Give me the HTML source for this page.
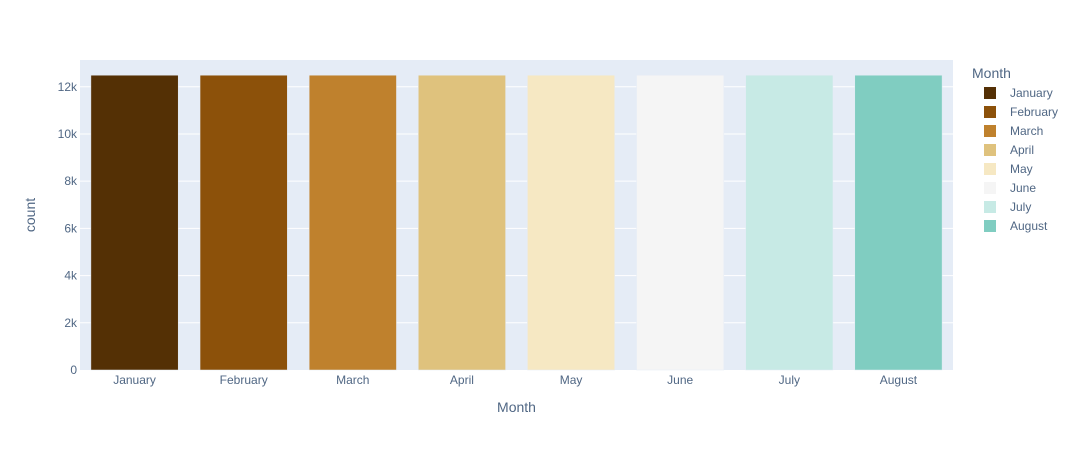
<!DOCTYPE html>
<html><head><meta charset="utf-8"><style>
body{margin:0;background:#fff;font-family:"Liberation Sans",sans-serif}
svg text{font-family:"Liberation Sans",sans-serif}
</style></head><body>
<svg id="c" width="1077" height="450"></svg>
<script>
const categories=["January","February","March","April","May","June","July","August"];
const counts=[12490,12490,12490,12490,12490,12490,12490,12490];
const colors=["#543005","#8c510a","#bf812d","#dfc27d","#f6e8c3","#f5f5f5","#c7eae5","#80cdc1"];
const yTicks=[0,2000,4000,6000,8000,10000,12000];
const yTickLabels=["0","2k","4k","6k","8k","10k","12k"];
const X0=80,X1=953,Y0=370,Y1=60,YMAX=13134;
const NS="http://www.w3.org/2000/svg";
const svg=document.getElementById('c');
function y(v){return Y0-(v/YMAX)*(Y0-Y1);}
const bw=(X1-X0)/categories.length;
function xc(i){return X0+bw*(i+0.5);}
function mk(t,a,p){const e=document.createElementNS(NS,t);for(const k in a)e.setAttribute(k,a[k]);(p||svg).appendChild(e);return e;}
const bg=mk('rect',{x:X0,y:Y1,width:X1-X0,height:Y0-Y1,fill:'#e5ecf6'});


yTicks.forEach((v,i)=>{
 if(v>0){const g=mk('line',{x1:X0,x2:X1,y1:y(v),y2:y(v),stroke:'#fff','stroke-width':1});
 
 }
 const t=mk('text',{x:X0-3,y:y(v)+4,'text-anchor':'end','font-size':12,fill:'#506784'});
 t.textContent=yTickLabels[i];
 
 
});
categories.forEach((c,i)=>{
 const w=bw*0.8;
 const r=mk('rect',{x:xc(i)-w/2,y:y(counts[i]),width:w,height:Y0-y(counts[i]),fill:colors[i],stroke:'#e5ecf6','stroke-width':0.5});
 
 
 const t=mk('text',{x:xc(i),y:Y0+14,'text-anchor':'middle','font-size':12,fill:'#506784'});
 t.textContent=c;
 
 
 const sw=mk('rect',{x:984,y:87+i*19,width:12,height:12,fill:colors[i]});
 
 
 const lt=mk('text',{x:1010,y:97+i*19,'font-size':12,fill:'#506784'});
 lt.textContent=c;
 
 
});
const xt=mk('text',{x:(X0+X1)/2,y:412,'text-anchor':'middle','font-size':14,fill:'#506784'});
xt.textContent='Month';


const yt=mk('text',{x:35,y:215,'text-anchor':'middle','font-size':14,fill:'#506784',transform:'rotate(-90 35 215)'});
yt.textContent='count';


const lg=mk('text',{x:972,y:78,'font-size':14,fill:'#506784'});
lg.textContent='Month';


</script>
</body></html>
